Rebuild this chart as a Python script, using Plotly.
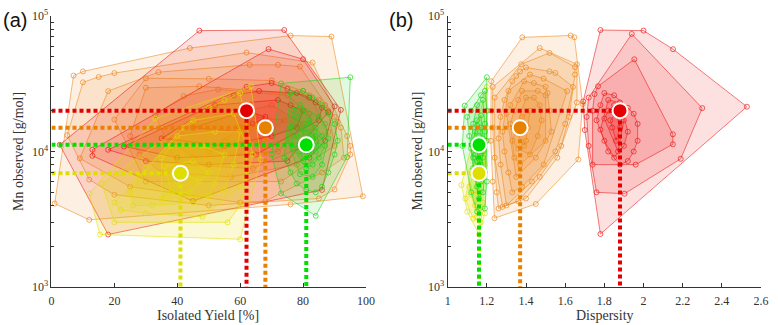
import numpy as np
import plotly.graph_objects as go

# ---------------- data: panel (a)  Isolated yield [%] vs Mn [g/mol] ----------------
red_yield_a = [2.6, 47, 74, 92, 18, 18, 69, 80, 90, 86, 45, 13, 13, 23, 35, 45, 52, 58, 62, 66, 70, 75, 78,
               82, 84, 86, 88, 72, 76, 80, 85, 68, 60, 55, 65, 75, 82, 70, 64, 50, 40, 30, 78, 87, 62]
red_mn_a = [11200, 78000, 78800, 20300, 2440, 10300, 57000, 48000, 21500, 5200, 4300, 10300, 9300, 10900,
            12500, 15000, 22000, 26000, 30000, 28000, 32000, 29000, 27000, 25000, 23000, 21000, 19500, 24000,
            22000, 20000, 17000, 18000, 14000, 11000, 9500, 8500, 9000, 13000, 16000, 8000, 9000, 8500, 15000,
            12000, 20000]

orange_yield_a = [1, 7, 10, 44, 76, 89, 99, 76, 12, 10, 15, 20, 18, 30, 30, 34, 20, 5, 9, 12, 83, 62, 72, 79,
                  63, 53, 50, 47, 42, 70, 90, 93, 95, 94, 92, 95, 90, 88, 85, 82, 87, 80, 75, 70, 65, 60, 55,
                  50, 45, 40, 35, 30, 25, 20, 50, 60, 68, 85, 78, 72, 66, 84, 88, 80, 74, 86, 90, 91, 77, 82,
                  69, 73, 64, 57, 46, 38, 28, 25, 33]
orange_mn_a = [4130, 36300, 39000, 58000, 71700, 70500, 4670, 4070, 3130, 32400, 35500, 37900, 27900, 34700,
               29500, 38500, 17200, 13200, 8900, 6200, 45300, 53700, 43600, 42300, 43600, 28700, 34400, 30300,
               25700, 33400, 5250, 9000, 11000, 13000, 15000, 9500, 18000, 20000, 24000, 26000, 22000, 28000,
               26000, 22000, 18000, 15000, 12000, 10000, 9000, 8000, 7000, 6000, 5500, 4800, 4000, 4200, 4300,
               4500, 8000, 10000, 12000, 12000, 14000, 16000, 17000, 7000, 11000, 16500, 13000, 19000, 14000,
               6000, 7500, 6500, 16500, 12000, 9500, 13000, 18500]

yellow_yield_a = [15.4, 60, 63.4, 33, 12, 66.6, 16, 20, 22, 25, 28, 30, 35, 38, 40, 42, 45, 50, 55, 60, 58, 52,
                  48, 45, 42, 40, 38, 35, 32, 30, 45, 50, 55, 60, 62, 58, 55, 62, 60, 50, 47, 44, 52, 36, 26,
                  20, 48, 56, 60, 64]
yellow_mn_a = [2440, 2250, 30400, 17500, 4900, 8700, 5800, 4200, 3700, 5000, 6500, 7500, 9000, 11000, 13000,
               15000, 17000, 21000, 24000, 27000, 19000, 14000, 11000, 8500, 7000, 6000, 5000, 4500, 4000, 3500,
               4200, 4700, 5200, 5500, 6500, 8000, 9500, 11000, 14000, 7000, 6000, 5000, 5800, 7800, 4000, 3000,
               3300, 3000, 4000, 9500]

green_yield_a = [73, 95, 94, 84, 73, 70, 76, 80, 83, 86, 88, 90, 91, 90, 88, 86, 84, 81, 78, 76, 74, 75, 76,
                 78, 80, 82, 84, 86, 87, 85, 83, 80, 79, 81, 83, 82, 80, 78, 77, 85, 84, 82, 81, 79, 83, 86, 87,
                 85, 81, 79, 77, 88, 80, 82, 83, 81, 84]
green_mn_a = [31800, 35300, 9100, 3350, 4900, 9500, 27000, 28000, 25000, 22000, 19000, 16000, 12000, 9500, 7000,
              5500, 5000, 5200, 5800, 7000, 9000, 12000, 15000, 18000, 20000, 17000, 15000, 13000, 11000, 9000,
              8000, 8500, 10000, 12000, 12500, 14000, 14500, 13000, 10500, 11000, 10000, 9500, 7500, 6800, 6500,
              8000, 16000, 18000, 16000, 22000, 20000, 12500, 11000, 11500, 10500, 10000, 13000]

# ---------------- data: panel (b)  Dispersity vs Mn [g/mol] ----------------
red_disp_b = [1.78, 2.0, 2.528, 1.78, 1.692, 1.94, 1.953, 2.151, 2.19, 2.15, 2.15, 2.3, 1.903, 1.768, 1.76,
              1.70, 1.72, 1.75, 1.80, 1.85, 1.82, 1.88, 1.92, 1.95, 1.97, 1.97, 1.95, 1.92, 1.88, 1.85, 1.82,
              1.80, 1.78, 1.76, 1.74, 1.78, 1.82, 1.86, 1.90, 1.92, 1.90, 1.86, 1.84, 1.80, 1.88, 1.85, 1.83,
              1.87, 1.96, 1.72, 1.74, 1.71]
red_mn_b = [78800, 78000, 21400, 2460, 23400, 73700, 47900, 56900, 8830, 13400, 11300, 20900, 4880, 30300, 5000,
            14400, 25000, 26500, 27000, 26000, 24000, 23000, 21000, 19000, 16000, 12000, 10000, 8500, 8000, 9000,
            10000, 12000, 14500, 17000, 20000, 22000, 20000, 19000, 17000, 14000, 11000, 12000, 15000, 17500,
            15000, 22000, 17000, 10000, 8000, 11000, 8000, 18000]

orange_disp_b = [1.381, 1.628, 1.647, 1.689, 1.667, 1.239, 1.222, 1.47, 1.52, 1.375, 1.40, 1.49, 1.52, 1.55,
                 1.50, 1.51, 1.50, 1.61, 1.65, 1.66, 1.65, 1.64, 1.66, 1.62, 1.60, 1.58, 1.55, 1.56, 1.45, 1.26,
                 1.28, 1.30, 1.23, 1.24, 1.22, 1.23, 1.22, 1.24, 1.23, 1.25, 1.27, 1.29, 1.31, 1.33, 1.35, 1.37,
                 1.42, 1.44, 1.46, 1.47, 1.48, 1.46, 1.45, 1.43, 1.40, 1.36, 1.33, 1.31, 1.29, 1.28, 1.32, 1.34,
                 1.36, 1.38, 1.40, 1.42, 1.41, 1.39, 1.37, 1.35, 1.33, 1.35, 1.38, 1.40, 1.42, 1.36, 1.34, 1.30,
                 1.27, 1.26, 1.52, 1.53, 1.50, 1.49, 1.47, 1.38, 1.32, 1.44, 1.39]
orange_mn_b = [69600, 71800, 69600, 22400, 8730, 3220, 33000, 58000, 53400, 44000, 41700, 34500, 39000, 38000,
               30000, 27000, 26000, 27900, 42000, 44000, 37000, 30000, 23000, 18000, 16000, 11000, 10000, 9000,
               4100, 3800, 3900, 4000, 30000, 25000, 20000, 15000, 12000, 9000, 6000, 5000, 18000, 24000, 28000,
               33000, 36000, 39000, 37000, 32000, 28000, 22000, 17000, 13000, 9000, 6000, 4500, 4300, 5000, 7000,
               10000, 14000, 16000, 20000, 24000, 28000, 25000, 20000, 15000, 11000, 8000, 6500, 12000, 14000,
               18000, 12000, 9500, 10500, 9000, 19000, 8000, 12500, 20000, 14000, 12000, 8000, 6500, 5500, 22000,
               25000, 33000]

yellow_disp_b = [1.07, 1.16, 1.20, 1.19, 1.10, 1.12, 1.14, 1.16, 1.18, 1.15, 1.17, 1.13, 1.19, 1.16, 1.18,
                 1.14, 1.17, 1.15, 1.20, 1.11, 1.09, 1.13, 1.18, 1.16, 1.12, 1.19]
yellow_mn_b = [5660, 2440, 30000, 3500, 3600, 4800, 5200, 6000, 6500, 7000, 7500, 6800, 8000, 9000, 10000,
               4000, 3000, 3300, 15000, 5500, 4500, 3200, 4200, 5000, 7200, 12000]

green_disp_b = [1.20, 1.087, 1.075, 1.12, 1.15, 1.19, 1.20, 1.20, 1.20, 1.19, 1.18, 1.10, 1.12, 1.15, 1.17,
                1.14, 1.16, 1.13, 1.18, 1.15, 1.17, 1.16, 1.14, 1.18, 1.15, 1.17, 1.13, 1.16, 1.19, 1.14, 1.17,
                1.15, 1.18, 1.16, 1.13, 1.11, 1.19, 1.17, 1.15, 1.18, 1.12, 1.16, 1.14, 1.19, 1.13, 1.15, 1.17]
green_mn_b = [35300, 21800, 11000, 5000, 3600, 3800, 6000, 12000, 20000, 28000, 24000, 18000, 20000, 17000,
              15000, 14000, 13000, 12000, 12500, 11000, 10500, 10000, 9500, 9000, 8500, 8000, 7500, 7200, 7000,
              6500, 6000, 5500, 5000, 4500, 9000, 13000, 16000, 18500, 15500, 10000, 10500, 8800, 11500, 14000,
              16000, 22000, 26000]

# group means (marker positions)
mean_yield = {"orange": 68, "red": 62, "yellow": 41, "green": 81}
mean_disp = {"orange": 1.37, "red": 1.88, "yellow": 1.16, "green": 1.16}
mean_mn = {"orange": 15000, "red": 20000, "yellow": 6900, "green": 11200}

colors = {"orange": (236, 134, 25), "red": (236, 20, 20), "yellow": (226, 222, 0), "green": (20, 214, 20)}
dot_colors = {"orange": "rgb(232,128,0)", "red": "rgb(228,0,0)", "yellow": "rgb(222,222,0)", "green": "rgb(0,224,0)"}
fill_alpha = {"orange": 0.12, "red": 0.13, "yellow": 0.17, "green": 0.13}


def hull(pts):
    pts = sorted(set(pts))
    if len(pts) < 3:
        return pts

    def cross(o, a, b):
        return (a[0] - o[0]) * (b[1] - o[1]) - (a[1] - o[1]) * (b[0] - o[0])
    lower, upper = [], []
    for p in pts:
        while len(lower) >= 2 and cross(lower[-2], lower[-1], p) <= 0:
            lower.pop()
        lower.append(p)
    for p in reversed(pts):
        while len(upper) >= 2 and cross(upper[-2], upper[-1], p) <= 0:
            upper.pop()
        upper.append(p)
    return lower[:-1] + upper[:-1]


def peel(xs, ys):
    rem = [(float(x), float(np.log10(y))) for x, y in zip(xs, ys)]
    layers = []
    while len(set(rem)) >= 3:
        h = hull(rem)
        if len(h) < 3:
            break
        layers.append(h)
        hs = set(h)
        rem = [p for p in rem if p not in hs]
    return layers


fig = go.Figure()

panels = [
    ("x", "y", {"orange": (orange_yield_a, orange_mn_a), "red": (red_yield_a, red_mn_a),
                "yellow": (yellow_yield_a, yellow_mn_a), "green": (green_yield_a, green_mn_a)}, mean_yield, 0),
    ("x2", "y2", {"orange": (orange_disp_b, orange_mn_b), "red": (red_disp_b, red_mn_b),
                  "yellow": (yellow_disp_b, yellow_mn_b), "green": (green_disp_b, green_mn_b)}, mean_disp, 1),
]

for xa, ya, groups, means, x0 in panels:
    for g in ["orange", "red", "yellow", "green"]:
        xs, ys = groups[g]
        r, gg, b = colors[g]
        for layer in peel(xs, ys):
            lx = [p[0] for p in layer] + [layer[0][0]]
            ly = [10 ** p[1] for p in layer] + [10 ** layer[0][1]]
            fig.add_trace(go.Scatter(x=lx, y=ly, xaxis=xa, yaxis=ya, mode="lines", fill="toself",
                                     fillcolor=f"rgba({r},{gg},{b},{fill_alpha[g]})",
                                     line=dict(color=f"rgba({r},{gg},{b},0.7)", width=0.8),
                                     hoverinfo="skip", showlegend=False))
        fig.add_trace(go.Scatter(x=xs, y=ys, xaxis=xa, yaxis=ya, mode="markers",
                                 marker=dict(symbol="circle-open", size=5, color=f"rgba({r},{gg},{b},0.85)",
                                             line=dict(width=0.8)),
                                 hoverinfo="skip", showlegend=False))
    # dotted guide lines
    for g in ["yellow", "orange", "green", "red"]:
        fig.add_trace(go.Scatter(x=[x0, means[g], means[g]], y=[mean_mn[g], mean_mn[g], 1000],
                                 xaxis=xa, yaxis=ya, mode="lines",
                                 line=dict(color=dot_colors[g], width=4, dash="4px,3px"),
                                 hoverinfo="skip", showlegend=False))
    for g in ["yellow", "orange", "green", "red"]:
        fig.add_trace(go.Scatter(x=[means[g]], y=[mean_mn[g]], xaxis=xa, yaxis=ya, mode="markers",
                                 marker=dict(size=15, color=dot_colors[g], line=dict(color="white", width=2)),
                                 hoverinfo="skip", showlegend=False))

minor_vals = [m * 10 ** e for e in (3, 4) for m in range(2, 10)]
serif = "Liberation Serif"
ax_common = dict(showline=True, linecolor="#333", linewidth=1, ticks="inside", ticklen=4, tickcolor="#333",
                 showgrid=False, zeroline=False, mirror=False,
                 tickfont=dict(family=serif, size=12, color="#333"))
yax = dict(type="log", range=[3, 5], tickvals=[1000, 10000, 100000],
           ticktext=["10<sup>3</sup>", "10<sup>4</sup>", "10<sup>5</sup>"],
           minor=dict(tickvals=minor_vals, ticks="inside", ticklen=3, tickcolor="#333"), **ax_common)

fig.update_layout(
    width=778, height=325, margin=dict(l=51, r=8, t=10, b=38),
    paper_bgcolor="white", plot_bgcolor="white",
    xaxis=dict(domain=[0.0007, 0.4437], range=[0, 100], tickvals=[0, 20, 40, 60, 80, 100], anchor="y",
               ticklabelstandoff=3, **ax_common),
    yaxis=dict(domain=[0, 1], anchor="x", **yax),
    xaxis2=dict(domain=[0.5587, 1.0], range=[1, 2.6], tickvals=[1, 1.2, 1.4, 1.6, 1.8, 2, 2.2, 2.4, 2.6],
                ticktext=["1", "1.2", "1.4", "1.6", "1.8", "2", "2.2", "2.4", "2.6"], anchor="y2",
                ticklabelstandoff=3, **ax_common),
    yaxis2=dict(domain=[0, 1], anchor="x2", **yax),
    annotations=[
        dict(text="(a)", x=-0.0709, y=0.985, xref="paper", yref="paper", xanchor="left", yanchor="middle",
             showarrow=False, font=dict(family="Liberation Sans", size=20, color="#111")),
        dict(text="(b)", x=0.4729, y=0.985, xref="paper", yref="paper", xanchor="left", yanchor="middle",
             showarrow=False, font=dict(family="Liberation Sans", size=20, color="#111")),
        dict(text="Mn observed [g/mol]", x=-0.0459, y=0.50, xref="paper", yref="paper", textangle=-90,
             xanchor="center", yanchor="middle", showarrow=False, font=dict(family=serif, size=14, color="#333")),
        dict(text="Mn observed [g/mol]", x=0.5156, y=0.50, xref="paper", yref="paper", textangle=-90,
             xanchor="center", yanchor="middle", showarrow=False, font=dict(family=serif, size=14, color="#333")),
        dict(text="Isolated Yield [%]", x=0.2211, y=-0.107, xref="paper", yref="paper",
             xanchor="center", yanchor="middle", showarrow=False, font=dict(family=serif, size=14, color="#333")),
        dict(text="Dispersity", x=0.7798, y=-0.107, xref="paper", yref="paper",
             xanchor="center", yanchor="middle", showarrow=False, font=dict(family=serif, size=14, color="#333")),
    ],
)

fig.write_html("out.html")
